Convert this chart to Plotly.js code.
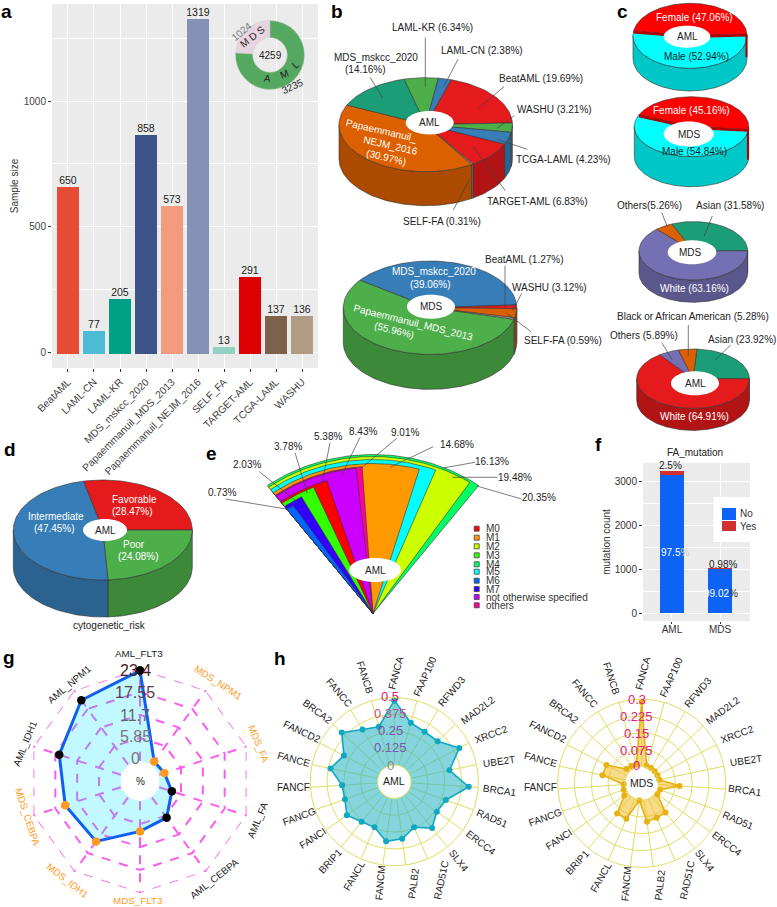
<!DOCTYPE html>
<html><head><meta charset="utf-8">
<script src="https://cdn.plot.ly/plotly-3.0.1.min.js"></script>
<style>html,body{margin:0;padding:0;background:#fff}#c{width:777px;height:907px}</style>
</head><body><div id="c"></div>
<script>
// ---------- DATA ----------
const cohorts = ['BeatAML','LAML-CN','LAML-KR','MDS_mskcc_2020','Papaemmanuil_MDS_2013','Papaemmanuil_NEJM_2016','SELF_FA','TARGET-AML','TCGA-LAML','WASHU'];
const cohortSizes = [650,77,205,858,573,1319,13,291,137,136];
const diseaseNames = ['MDS','AML'];
const diseaseCounts = [1024,3235];

// drawn share of each slice in b (the printed labels use other denominators in the source figure)
const bAmlNames = ['BeatAML','WASHU','TCGA-LAML','TARGET-AML','SELF-FA','Papaemmanuil_NEJM_2016','MDS_mskcc_2020','LAML-KR','LAML-CN'];
const bAmlShare = [19.69,3.21,4.23,9.0,0.31,40.77,14.16,6.34,2.38];
const bMdsNames = ['MDS_mskcc_2020','BeatAML','WASHU','SELF-FA','Papaemmanuil_MDS_2013'];
const bMdsShare = [39.06,1.27,3.12,0.59,55.96];
const sexAml = [47.06,52.94];
const sexMds = [45.16,54.84];
const raceMds = [31.58,63.16,5.26];
const raceAml = [23.92,64.91,5.89,5.28];
const cytoRisk = [28.47,24.08,47.45];

const fanNames  = ['M4','M2','M5','M1','others','not otherwise specified','M0','M3','M7','M6'];
const fanLabels = ['20.35%','19.48%','16.13%','14.68%','9.01%','8.43%','5.38%','3.78%','2.03%','0.73%'];
const fanRadius = [159,157,154,150,147,146,139,137,133,129.5];
const fanEndDeg = [36.4,33.4,21.3,16,-3.8,-5.9,-17.2,-22.8,-28.7,-33.4];
const legendNames = ['M0','M1','M2','M3','M4','M5','M6','M7','not otherwise specified','others'];

const faGroups = ['AML','MDS'];
const faNo = [3154,1014];
const faYes = [81,10];

const gAxes = ['AML_FLT3','MDS_NPM1','MDS_FA','AML_FA','AML_CEBPA','MDS_FLT3','MDS_IDH1','MDS_CEBPA','AML_IDH1','AML_NPM1'];
const gValues = [23.0,1.0,1.4,3.4,6.4,7.7,13.9,14.9,16.5,20.3];
const gTicks = [0,5.85,11.7,17.55,23.4];

const hGenes = ['FANCA','FAAP100','RFWD3','MAD2L2','XRCC2','UBE2T','BRCA1','RAD51','ERCC4','SLX4','RAD51C','PALB2','FANCM','FANCL','BRIP1','FANCI','FANCG','FANCF','FANCE','FANCD2','BRCA2','FANCC','FANCB'];
const hAml = [0.48,0.33,0.31,0.316,0.42,0.294,0.43,0.282,0.262,0.32,0.245,0.304,0.323,0.245,0.26,0.307,0.265,0.265,0.36,0.297,0.41,0.33,0.30];
const hMds = [0.288,0.006,0.005,0.004,0.004,0.005,0.094,0.012,0.01,0.093,0.093,0.098,0.002,0.097,0.099,0.02,0.01,0.005,0.104,0.102,0.018,0.015,0.013];
const hAmlTicks = [0,0.125,0.25,0.375,0.5];
const hMdsTicks = [0,0.075,0.15,0.225,0.3];

// ---------- STYLE / LAYOUT TABLES ----------
const W=777,H=907,FONT='"Liberation Sans",Arial,sans-serif';
const npg=['#E64B35','#4DBBD5','#00A087','#3C5488','#F39B7F','#8491B4','#91D1C2','#DC0000','#7E6148','#B09C85'];
const RED='#e41a1c',BLUE='#377eb8',GREEN='#4daf4a',ORANGE='#dd6000',TEAL='#1b9e77',PURPLE='#7570b3';
const fanColors=['#00ff66','#ccff00','#00ffff','#ff9900','#ff0099','#cc00ff','#ff0000','#33ff00','#3300ff','#0066ff'];
const legendColors=['#ff0000','#ff9900','#ccff00','#33ff00','#00ff66','#00ffff','#0066ff','#3300ff','#cc00ff','#ff0099'];

const traces=[],annotations=[],shapes=[];
const OV={xaxis:'x3',yaxis:'y3',hoverinfo:'skip',showlegend:false,cliponaxis:false};
const px=x=>x/W, py=y=>1-y/H;
function ann(x,y,text,o){o=o||{};annotations.push({xref:'paper',yref:'paper',x:px(x),y:py(y),text:text,showarrow:false,
  xanchor:o.anchor||'center',yanchor:'middle',textangle:o.angle||0,
  font:{family:FONT,size:o.size||10,color:o.color||'#222',weight:o.bold?700:400}});}
function darken(c,f){const n=parseInt(c.slice(1),16);return 'rgb('+[(n>>16)&255,(n>>8)&255,n&255].map(v=>Math.round(v*f)).join(',')+')';}
function poly(xs,ys,fill,lw,lc){traces.push(Object.assign({type:'scatter',mode:lw?'lines':'none',x:xs,y:ys,fill:'toself',fillcolor:fill,
  line:{color:lc||'#333',width:lw||0}},OV));}
function segs(list,color,width){const x=[],y=[];list.forEach(s=>{x.push(s[0],s[2],null);y.push(s[1],s[3],null);});
  traces.push(Object.assign({type:'scatter',mode:'lines',x:x,y:y,line:{color:color,width:width}},OV));}
function ellipse(cx,cy,rx,ry,fill){const xs=[],ys=[];for(let t=0;t<=360;t+=4){const r=t*Math.PI/180;xs.push(cx+rx*Math.sin(r));ys.push(cy-ry*Math.cos(r));}poly(xs,ys,fill,0);}

function pie3d(c){
  const tot=c.shares.reduce((a,b)=>a+b,0);let a=c.start;const arcs=[];
  c.shares.forEach((s,i)=>{const e=a+s/tot*360;arcs.push([a,e,c.colors[i]]);a=e;});
  const P=t=>{const r=t*Math.PI/180;return [c.cx+c.rx*Math.sin(r),c.cy-c.ry*Math.cos(r)];};
  const range=(a,b)=>{const o=[];for(let t=a;t<b;t+=2)o.push(t);o.push(b);return o;};
  arcs.forEach(A=>{[0,360,-360].forEach(k=>{
    const s=Math.max(A[0],90+k),e=Math.min(A[1],270+k);
    if(e<=s)return;
    const ang=range(s,e),top=ang.map(P);
    const xs=top.map(p=>p[0]).concat(top.slice().reverse().map(p=>p[0]));
    const ys=top.map(p=>p[1]).concat(top.slice().reverse().map(p=>p[1]+c.depth));
    poly(xs.concat(xs[0]),ys.concat(ys[0]),darken(A[2],0.78),0.6);
  });});
  arcs.forEach(A=>{const pts=range(A[0],A[1]).map(P);
    poly([c.cx].concat(pts.map(p=>p[0]),c.cx),[c.cy].concat(pts.map(p=>p[1]),c.cy),A[2],0.6);});
  if(c.cut){const A=arcs[0],p0=P(A[0]),p1=P(A[1]);
    segs([[p0[0],p0[1]+1,c.cx,c.cy+1],[p1[0],p1[1]+1,c.cx,c.cy+1]],'#b00000',2.5);
    segs([[p1[0]-0.5,p1[1],p1[0]-0.5,p1[1]+c.depth]],'#b00000',2);}
  ellipse(c.hx,c.hy,c.hrx,c.hry,'#fff');
}

// ---------- PANEL a ----------
traces.push({type:'bar',x:cohorts,y:cohortSizes,xaxis:'x',yaxis:'y',width:0.69,
  marker:{color:npg,line:{color:npg,width:4}},text:cohortSizes.map(String),textposition:'outside',cliponaxis:false,constraintext:'none',
  textfont:{family:FONT,size:10.5,color:'#222'},hoverinfo:'x+y',showlegend:false});
traces.push({type:'pie',labels:diseaseNames,values:diseaseCounts,sort:false,direction:'counterclockwise',rotation:-86.5,hole:0.5,
  domain:{x:[px(270-34.5),px(270+34.5)],y:[py(55+34.5),py(55-34.5)]},marker:{colors:['#e6d5e0','#55a860'],line:{color:'#c8c8c8',width:0.5}},
  textinfo:'none',showlegend:false,hoverinfo:'label+value'});
ann(270.5,55.5,'4259',{size:10});
ann(252.5,36,'M D S',{size:10,angle:-38});
ann(267.5,78.5,'A',{size:10,angle:8});
ann(283.5,74,'M',{size:10,angle:-22});
ann(296,65,'L',{size:10,angle:-42});
ann(241.5,31,'1024',{size:10,angle:-40,color:'#777'});
ann(292,86,'3235',{size:10,angle:-25});
shapes.push({type:'rect',layer:'below',xref:'paper',yref:'paper',x0:px(52),x1:px(318),y0:py(368),y1:py(4),fillcolor:'#ebebeb',line:{width:0}});

// ---------- PANEL b ----------
pie3d({cx:425.7,cy:124.7,rx:86.7,ry:47,depth:34,start:17,shares:bAmlShare,
  colors:[RED,GREEN,BLUE,RED,'#9a9a9a',ORANGE,TEAL,GREEN,BLUE],hx:429.7,hy:122.7,hrx:24,hry:11.7});
pie3d({cx:430,cy:307.7,rx:86.7,ry:46.7,depth:35,start:306,shares:bMdsShare,
  colors:[BLUE,RED,ORANGE,'#b0b0b0',GREEN],hx:431,hy:306.7,hrx:24,hry:12});
segs([[425.3,37.7,425.3,87.3],[458,59.3,444,86],[370,77.3,382.7,97.7],[504,86.7,478.3,108.3],[514.3,115.7,497.3,128.3],
      [527.3,149.3,496.7,139.3],[505.3,190.7,472.7,146],[453.3,210,469.3,180],
      [505,265.7,505,306.7],[521.7,293.3,512.7,310.7],[531,331.7,506.7,313.3]],'#444',0.7);
ann(432,27.7,'LAML-KR (6.34%)');ann(482.3,50.3,'LAML-CN (2.38%)');ann(375.7,58,'MDS_mskcc_2020');ann(365.7,70,'(14.16%)');
ann(540.7,78.7,'BeatAML (19.69%)');ann(554,109.3,'WASHU (3.21%)');ann(563.3,159.3,'TCGA-LAML (4.23%)');
ann(537.7,201,'TARGET-AML (6.83%)');ann(442.3,221.3,'SELF-FA (0.31%)');
ann(381.7,131,'Papaemmanuil_',{color:'#fff',angle:13});ann(390.7,145,'NEJM_2016',{color:'#fff',angle:13});ann(386.7,157.3,'(30.97%)',{color:'#fff',angle:13});
ann(429.7,122.7,'AML');ann(431,306.7,'MDS');
ann(524,259.3,'BeatAML (1.27%)');ann(549.3,287.3,'WASHU (3.12%)');ann(563.3,340,'SELF-FA (0.59%)');
ann(434.3,272,'MDS_mskcc_2020',{color:'#fff'});ann(430,284,'(39.06%)',{color:'#fff'});
ann(413.3,322.7,'Papaemmanuil_MDS_2013',{color:'#fff',angle:14});ann(395,330,'(55.96%)',{color:'#fff',angle:14});

// ---------- PANEL c ----------
pie3d({cx:690,cy:35.8,rx:57,ry:32.5,depth:22.7,start:278,shares:sexAml,colors:['#ff0000','#00ffff'],hx:687,hy:36.7,hrx:23.3,hry:11,cut:true});
pie3d({cx:691.5,cy:126.7,rx:57.2,ry:30,depth:30,start:293,shares:sexMds,colors:['#ff0000','#00ffff'],hx:688.7,hy:134,hrx:25,hry:12.5,cut:true});
pie3d({cx:693.3,cy:250.8,rx:54.3,ry:29.2,depth:22.3,start:336.5,shares:raceMds,colors:[TEAL,PURPLE,ORANGE],hx:692,hy:252.3,hrx:24.3,hry:12});
pie3d({cx:693,cy:378.7,rx:56.3,ry:29.7,depth:22,start:4,shares:raceAml,colors:[TEAL,RED,PURPLE,ORANGE],hx:695,hy:383.3,hrx:24,hry:12});
segs([[661.7,212.7,667.3,226.7],[712.3,216,704.3,236],[688.3,325,688.3,356],[661.7,342.7,672.3,360],[730.7,345,715,360]],'#444',0.7);
ann(694.7,17.3,'Female (47.06%)',{color:'#fff'});ann(687.7,36.7,'AML');ann(696,56.7,'Male (52.94%)');
ann(691.7,111,'Female (45.16%)',{color:'#fff'});ann(689,134,'MDS');ann(694.3,151.7,'Male (54.84%)');
ann(649.3,205,'Others(5.26%)');ann(730,205.7,'Asian (31.58%)');ann(690.7,252.3,'MDS');ann(694,288.3,'White (63.16%)',{color:'#fff'});
ann(693.3,316,'Black or African American (5.28%)');ann(644,335.3,'Others (5.89%)');ann(742.3,339.7,'Asian (23.92%)');
ann(695,383.3,'AML');ann(694,416.7,'White (64.91%)',{color:'#fff'});

// ---------- PANEL d ----------
pie3d({cx:102.8,cy:530,rx:89.5,ry:50,depth:37,start:347.5,shares:cytoRisk,colors:[RED,GREEN,BLUE],hx:105,hy:530,hrx:22,hry:11});
ann(134.3,499.3,'Favorable',{color:'#fff'});ann(132.3,511.7,'(28.47%)',{color:'#fff'});
ann(55.7,516.7,'Intermediate',{color:'#fff'});ann(54,528.7,'(47.45%)',{color:'#fff'});
ann(105,530.7,'AML');ann(134.3,544.3,'Poor',{color:'#fff'});ann(138.7,556.7,'(24.08%)',{color:'#fff'});
ann(109,625.7,'cytogenetic_risk');

// ---------- PANEL e ----------
const FAN={x:373,y:613.5,stretch:1.12,left:-36.4};
fanNames.forEach((n,i)=>{const xs=[FAN.x],ys=[FAN.y],r=fanRadius[i];
  for(let t=FAN.left;t<fanEndDeg[i];t+=1){const a=t*Math.PI/180;xs.push(FAN.x+r*FAN.stretch*Math.sin(a));ys.push(FAN.y-r*Math.cos(a));}
  const a=fanEndDeg[i]*Math.PI/180;xs.push(FAN.x+r*FAN.stretch*Math.sin(a),FAN.x);ys.push(FAN.y-r*Math.cos(a),FAN.y);
  poly(xs,ys,fanColors[i],0.6);});
ellipse(375,570,26,12,'#fff');
ann(375,570.5,'AML');
const fanLabelAt=[[539.3,497.3],[514.7,477],[492.3,461],[457,445],[405,432.7],[363,431.7],[328.3,436.7],[287.7,446.7],[246.7,465],[222,492]];
fanLabels.forEach((t,i)=>ann(fanLabelAt[i][0],fanLabelAt[i][1],t));
segs([[521.7,499,476.7,486],[497.3,477.3,452.3,477.3],[475,462.3,443,468],[433.3,446.7,390,467.3],[396.7,438.3,361.7,467.7],
      [360,437.3,341.7,475],[330,442.7,321.7,485],[295,452.7,307.3,493.3],[259.3,471.7,297,501.7],[225.7,499,286,509]],'#444',0.7);
const legendY=[528.7,537.7,546.3,555.3,564.3,571.7,580.7,589,597,605.3];
traces.push(Object.assign({type:'scatter',mode:'markers',x:legendY.map(()=>476.7),y:legendY,
  marker:{symbol:'square',size:5,color:legendColors,line:{color:'#444',width:0.8}}},OV));
legendNames.forEach((t,i)=>ann(484,legendY[i],t,{anchor:'left',size:10,color:'#333'}));

// ---------- PANEL f ----------
traces.push({type:'bar',name:'No',x:faGroups,y:faNo,xaxis:'x2',yaxis:'y2',width:0.5,marker:{color:'#0d63f5'},showlegend:false});
traces.push({type:'bar',name:'Yes',x:faGroups,y:faYes,xaxis:'x2',yaxis:'y2',width:0.5,marker:{color:'#d03030'},showlegend:false});
shapes.push({type:'rect',layer:'below',xref:'paper',yref:'paper',x0:px(643),x1:px(750),y0:py(621),y1:py(463),fillcolor:'#ebebeb',line:{width:0}});
shapes.push({type:'rect',layer:'above',xref:'paper',yref:'paper',x0:px(713.5),x1:px(750),y0:py(542),y1:py(497),fillcolor:'#fff',line:{width:0}});
shapes.push({type:'rect',layer:'above',xref:'paper',yref:'paper',x0:px(722),x1:px(736),y0:py(520),y1:py(508),fillcolor:'#0d63f5',line:{width:0}});
shapes.push({type:'rect',layer:'above',xref:'paper',yref:'paper',x0:px(722),x1:px(736),y0:py(531),y1:py(521),fillcolor:'#d03030',line:{width:0}});
ann(738,513,'No',{anchor:'left',color:'#333'});ann(738,526.5,'Yes',{anchor:'left',color:'#333'});
ann(695,452,'FA_mutation');
ann(670.7,465.3,'2.5%');ann(675,552.7,'97.5<span style="color:#ccc">%</span>',{color:'#fff'});
ann(722.7,564,'0.98%');ann(720.7,593,'99.02<span style="color:#333">%</span>',{color:'#fff'});

// ---------- PANEL g ----------
const closed=a=>a.concat(a[0]);
const gTop=gTicks[gTicks.length-1];
traces.push({type:'scatterpolar',subplot:'polar',r:closed(gAxes.map(()=>gTop)),theta:closed(gAxes),mode:'lines',
  line:{color:'#fb5cf0',width:1.7,dash:'dash'},showlegend:false,hoverinfo:'skip',cliponaxis:false});
traces.push({type:'scatterpolar',subplot:'polar',r:closed(gValues),theta:closed(gAxes),mode:'lines+markers',fill:'toself',
  fillcolor:'rgba(0,225,255,0.24)',line:{color:'#1060f0',width:3},
  marker:{size:8.5,color:closed(gAxes.map(n=>n.indexOf('AML')===0?'#000':'#ff9a1f'))},cliponaxis:false,showlegend:false,hoverinfo:'theta+r'});
const gLabelAt=[[138.5,653.5,0],[218.5,682.5,33],[258.5,743.5,68],[257.5,820.5,-67],[214.5,878.5,-38],[137.5,900,0],[67.5,880,38],[27.5,816.5,72],[25,743.5,-68],[69,684.5,-40]];
gAxes.forEach((n,i)=>{const a=gLabelAt[i];ann(a[0],a[1],n,{angle:a[2],color:n.indexOf('AML')===0?'#222':'#ff9a1f',size:9.8});});
const gTickY=[758.5,736.5,715,692.5,670.5],gTickColor=['#777','#777','#666','#5a4048','#4a1a20'];
gTicks.forEach((v,i)=>ann(135,gTickY[i],String(v),{size:16,color:gTickColor[i]}));
shapes.push({type:'circle',layer:'above',xref:'paper',yref:'paper',x0:px(127.3),x1:px(152.7),y0:py(793.7),y1:py(768.3),fillcolor:'#fff',line:{width:0}});
ann(140,781,'%',{size:10});

// ---------- PANEL h ----------
traces.push({type:'scatterpolar',subplot:'polar2',r:closed(hAml),theta:closed(hGenes),mode:'lines+markers',fill:'toself',
  fillcolor:'rgba(50,185,200,0.6)',line:{color:'#10a8c0',width:1.6},marker:{size:6,color:'#10a8c0'},showlegend:false,hoverinfo:'theta+r'});
traces.push({type:'scatterpolar',subplot:'polar3',r:closed(hMds),theta:closed(hGenes),mode:'lines+markers',fill:'toself',
  fillcolor:'rgba(240,190,40,0.55)',line:{color:'#e8b010',width:1.6},marker:{size:6,color:'#e8b010'},showlegend:false,hoverinfo:'theta+r'});
const geneLabelAt=[[393,98,-75],[480,110,-66],[560,155,-50],[637,210,-37],[677,283,-20],[702,365,-8],[705,450,8],[682,535,23],[647,607,37],[582,660,52],
  [527,720,-78],[445,730,-83],[345,730,-85],[268,707,-60],[195,665,-47],[142,595,-33],[103,530,-20],[85,442,0],[88,358,15],[110,275,25],[158,213,37],[222,158,50],[300,113,72]];
const geneLabelAt2=[[1133,100],[1218,112],[1298,157],[1373,210],[1415,283],[1443,362],[1440,452],[1420,540],[1385,610],[1320,660],[1265,720],[1183,735],[1083,733],[1008,713],[937,668],[880,597],[840,532],[825,443],[827,358],[848,275],[897,215],[960,160],[1040,115]];
hGenes.forEach((g,i)=>{const a=geneLabelAt[i],b=geneLabelAt2[i];
  ann(265+a[0]/3,640+a[1]/3,g,{angle:a[2],size:10});ann(265+b[0]/3,640+b[1]/3,g,{angle:a[2],size:10});});
const hTickY=[375,323,271,220,170],hLeftColor=['#888','#7a5aa5','#8050a0','#c0508a','#e0206e'];
hAmlTicks.forEach((v,i)=>ann(265+376/3,640+hTickY[i]/3,String(v),{size:13,color:hLeftColor[i]}));
const hTickY2=[376,330,279,229,178];
hMdsTicks.forEach((v,i)=>ann(265+1115/3,640+hTickY2[i]/3,String(v),{size:13,color:'#e0207a'}));
shapes.push({type:'circle',layer:'above',xref:'paper',yref:'paper',x0:px(394.3-13.3),x1:px(394.3+13.3),y0:py(781.7+13.3),y1:py(781.7-13.3),fillcolor:'#fff',line:{width:0}});
shapes.push({type:'circle',layer:'above',xref:'paper',yref:'paper',x0:px(641.7-13.3),x1:px(641.7+13.3),y0:py(783-13.3+26.6),y1:py(783-13.3),fillcolor:'#fff',line:{width:0}});
ann(394.3,781,'AML',{size:10.5});ann(641.7,782.5,'MDS',{size:10.5});

// panel letters
[['a',6,11],['b',337,11],['c',622,12],['d',10,450],['e',211,453],['f',598,445],['g',9,657],['h',280,658]].forEach(l=>ann(l[1],l[2],l[0],{size:19,bold:true,color:'#000'}));

// ---------- LAYOUT ----------
const dom=(cx,cy,R)=>({x:[px(cx-R),px(cx+R)],y:[py(cy+R),py(cy-R)]});
const hidden={visible:false,showgrid:false,zeroline:false,fixedrange:true};
function polarCfg(cx,cy,R,hole,ticks,color,gw,dash,shape,outer){
  const ang={direction:'clockwise',rotation:90,type:'category',showticklabels:false,ticks:'',gridcolor:color,gridwidth:gw,griddash:dash,linecolor:color,linewidth:gw,showline:outer};
  return {domain:dom(cx,cy,R),hole:hole,bgcolor:'rgba(0,0,0,0)',gridshape:shape,
    radialaxis:{range:[ticks[0],ticks[ticks.length-1]],tickvals:ticks,showticklabels:false,ticks:'',showline:false,gridcolor:color,gridwidth:gw,griddash:dash},
    angularaxis:ang};
}
const layout={width:W,height:H,margin:{l:0,r:0,t:0,b:0},paper_bgcolor:'#fff',plot_bgcolor:'rgba(0,0,0,0)',
  font:{family:FONT,size:10,color:'#333'},showlegend:false,barmode:'stack',bargap:0,
  xaxis:{domain:[px(52),px(318)],range:[-0.615,9.615],tickangle:-45,tickfont:{family:FONT,size:10.3,color:'#444'},
    ticks:'outside',ticklen:3,tickcolor:'#333',gridcolor:'#fff',gridwidth:1,showgrid:true,zeroline:false,automargin:false,
    anchor:'y',fixedrange:true,type:'category',categoryorder:'array',categoryarray:cohorts},
  yaxis:{domain:[py(368),py(4)],range:[-62,1386],tickvals:[0,500,1000],tickfont:{family:FONT,size:10,color:'#444'},
    ticks:'outside',ticklen:3,tickcolor:'#333',gridcolor:'#fff',gridwidth:1.2,zeroline:false,automargin:false,anchor:'x',fixedrange:true,
    minor:{dtick:250,showgrid:true,gridcolor:'#fff',gridwidth:0.5,ticks:''},
    title:{text:'Sample size',font:{family:FONT,size:10,color:'#333'},standoff:3}},
  xaxis2:{domain:[px(643),px(750)],range:[-0.6,1.62],tickfont:{family:FONT,size:10,color:'#333'},ticks:'outside',ticklen:2,tickcolor:'#333',ticklabelstandoff:-3,
    gridcolor:'#fff',zeroline:false,anchor:'y2',fixedrange:true,type:'category',categoryarray:faGroups},
  yaxis2:{domain:[py(621),py(463)],range:[-175,3424],tickvals:[0,1000,2000,3000],tickfont:{family:FONT,size:10,color:'#333'},ticks:'outside',ticklen:3,tickcolor:'#333',
    gridcolor:'#fff',gridwidth:1,zeroline:false,anchor:'x2',fixedrange:true,minor:{dtick:500,showgrid:true,gridcolor:'#fff',gridwidth:0.5,ticks:''},
    title:{text:'mutation count',font:{family:FONT,size:10,color:'#333'},standoff:2}},
  xaxis3:Object.assign({domain:[0,1],range:[0,W],anchor:'y3'},hidden),
  yaxis3:Object.assign({domain:[0,1],range:[H,0],anchor:'x3'},hidden),
  polar:polarCfg(140,781,112,0.18,gTicks,'#fb5cf0',1.7,'dash','linear',false),
  polar2:polarCfg(394.3,781.7,84,0.2,hAmlTicks,'#e2dc62',1,'solid','circular',true),
  polar3:polarCfg(641.7,783.3,84,0.2,hMdsTicks,'#e2dc62',1,'solid','circular',true),
  annotations:annotations,shapes:shapes};
Plotly.newPlot('c',traces,layout,{displayModeBar:false,responsive:false});
</script></body></html>
